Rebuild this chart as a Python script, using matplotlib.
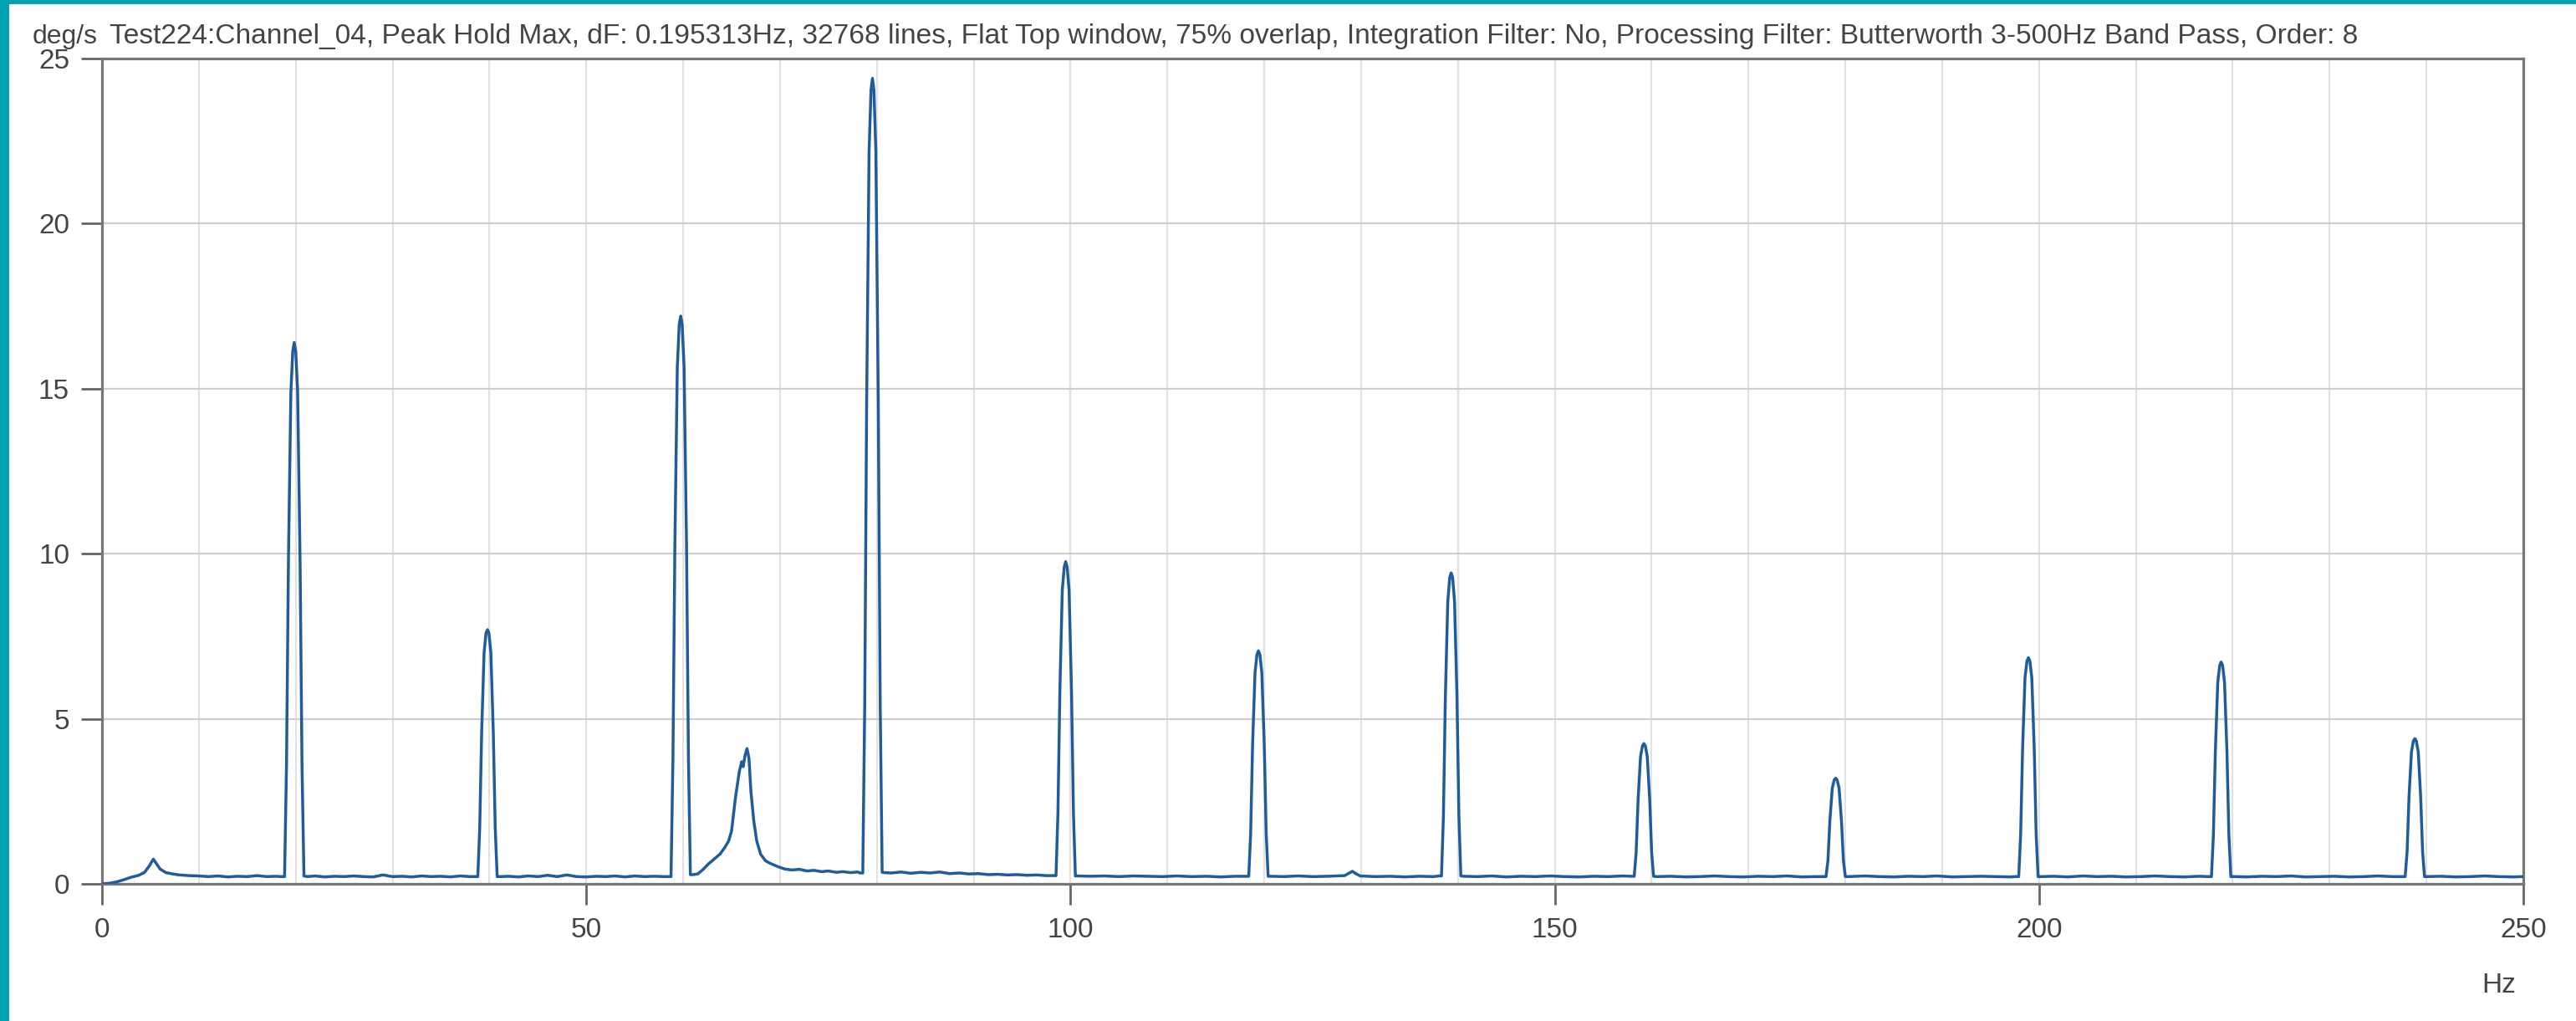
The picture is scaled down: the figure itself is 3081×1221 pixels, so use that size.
import numpy as np
import matplotlib
matplotlib.use("Agg")
from matplotlib import pyplot as plt
from matplotlib.patches import Rectangle
from matplotlib.ticker import MultipleLocator

plt.rcParams['font.family'] = ['Liberation Sans', 'DejaVu Sans']

# channel header
unit_label = "deg/s"
header = ("Test224:Channel_04, Peak Hold Max, dF: 0.195313Hz, 32768 lines, Flat Top window, "
          "75% overlap, Integration Filter: No, Processing Filter: Butterworth 3-500Hz Band Pass, Order: 8")
x_unit = "Hz"

x_ticks = [0, 50, 100, 150, 200, 250]
y_ticks = [0, 5, 10, 15, 20, 25]

# noise floor between the harmonics (Hz, deg/s)
floor_hz = [0.0, 0.8, 1.5, 2.2, 3.0, 3.8, 4.4, 4.9, 5.3, 5.6, 6.0, 6.6, 7.3, 8.0, 9.0, 10.0,
            11.0, 12.0, 13.0, 14.0, 15.0, 16.0, 17.0, 18.0, 18.5,
            21.2, 22.0, 23.0, 24.0, 25.0, 26.0, 27.0, 28.0, 29.0, 30.0, 31.0, 32.0, 33.0, 34.0,
            35.0, 36.0, 37.0, 38.0, 38.5,
            41.2, 42.0, 43.0, 44.0, 45.0, 46.0, 47.0, 48.0, 49.0, 50.0, 51.0, 52.0, 53.0, 54.0,
            55.0, 56.0, 57.0, 58.0, 58.5,
            61.0, 61.5, 62.0, 62.6, 63.2, 63.8, 64.3, 64.7, 65.0, 65.4, 65.8, 66.05, 66.2, 66.4,
            66.6, 66.8, 67.0, 67.3, 67.6, 68.0, 68.5, 69.0, 69.8, 70.5, 71.2, 72.0, 72.8, 73.5,
            74.3, 75.0, 75.8, 76.5, 77.3, 78.0, 78.3,
            80.8, 81.5, 82.5, 83.5, 84.5, 85.5, 86.5, 87.5, 88.5, 89.5, 90.5, 91.5, 92.5, 93.5,
            94.5, 95.5, 96.5, 97.5, 98.2,
            100.8, 102.0, 103.5, 105.0, 106.5, 108.0, 109.5, 111.0, 112.5, 114.0, 115.5, 117.0, 118.1,
            120.7, 122.0, 123.5, 125.0, 126.5, 128.3, 128.8, 129.1, 129.4, 129.9, 131.5, 133.0,
            134.5, 136.0, 137.5, 138.0,
            140.6, 142.0, 143.5, 145.0, 146.5, 148.0, 149.5, 151.0, 152.5, 154.0, 155.5, 157.0, 157.9,
            160.5, 162.0, 163.5, 165.0, 166.5, 168.0, 169.5, 171.0, 172.5, 174.0, 175.5, 177.0, 177.7,
            180.3, 182.0, 183.5, 185.0, 186.5, 188.0, 189.5, 191.0, 192.5, 194.0, 195.5, 197.0, 197.6,
            200.2, 201.5, 203.0, 204.5, 206.0, 207.5, 209.0, 210.5, 212.0, 213.5, 215.0, 216.5, 217.5,
            220.1, 221.5, 223.0, 224.5, 226.0, 227.5, 229.0, 230.5, 232.0, 233.5, 235.0, 236.5, 237.5,
            240.1, 241.5, 243.0, 244.5, 246.0, 247.5, 249.0, 250.0]
floor_amp = [0.0, 0.02, 0.06, 0.12, 0.2, 0.26, 0.35, 0.55, 0.75, 0.62, 0.45, 0.34, 0.3, 0.27, 0.25, 0.24,
             0.22, 0.24, 0.21, 0.23, 0.22, 0.25, 0.22, 0.23, 0.22,
             0.22, 0.24, 0.21, 0.23, 0.22, 0.24, 0.22, 0.21, 0.27, 0.22, 0.23, 0.21, 0.24, 0.22,
             0.23, 0.21, 0.24, 0.22, 0.22,
             0.22, 0.23, 0.21, 0.24, 0.22, 0.26, 0.22, 0.27, 0.22, 0.21, 0.23, 0.22, 0.24, 0.21,
             0.24, 0.22, 0.23, 0.22, 0.22,
             0.28, 0.3, 0.42, 0.6, 0.75, 0.9, 1.1, 1.3, 1.6, 2.6, 3.4, 3.7, 3.55, 3.9,
             4.1, 3.8, 2.8, 1.9, 1.3, 0.9, 0.7, 0.62, 0.52, 0.45, 0.42, 0.44, 0.39, 0.41,
             0.37, 0.39, 0.35, 0.37, 0.34, 0.36, 0.33,
             0.34, 0.33, 0.36, 0.32, 0.35, 0.33, 0.36, 0.31, 0.33, 0.3, 0.31, 0.28, 0.29, 0.27,
             0.28, 0.26, 0.27, 0.25, 0.25,
             0.24, 0.23, 0.24, 0.22, 0.24, 0.23, 0.22, 0.24, 0.22, 0.23, 0.21, 0.23, 0.23,
             0.23, 0.22, 0.24, 0.22, 0.23, 0.25, 0.33, 0.38, 0.32, 0.24, 0.22, 0.23,
             0.21, 0.23, 0.22, 0.24,
             0.23, 0.22, 0.24, 0.21, 0.23, 0.22, 0.24, 0.22, 0.21, 0.23, 0.22, 0.24, 0.23,
             0.22, 0.23, 0.21, 0.22, 0.24, 0.22, 0.21, 0.23, 0.22, 0.24, 0.21, 0.22, 0.22,
             0.22, 0.24, 0.22, 0.21, 0.23, 0.22, 0.24, 0.21, 0.22, 0.23, 0.22, 0.21, 0.22,
             0.22, 0.23, 0.21, 0.24, 0.22, 0.23, 0.21, 0.22, 0.24, 0.22, 0.21, 0.23, 0.22,
             0.22, 0.21, 0.23, 0.22, 0.24, 0.21, 0.22, 0.23, 0.21, 0.22, 0.24, 0.22, 0.22,
             0.22, 0.23, 0.21, 0.22, 0.24, 0.22, 0.21, 0.22]

# harmonics of ~19.9 Hz, sampled across each main lobe
h1_hz = [18.85, 19.05, 19.25, 19.5, 19.7, 19.85, 20.0, 20.2, 20.45, 20.65, 20.85]
h1_amp = [0.22, 3.6, 9.8, 14.9, 16.15, 16.4, 16.15, 14.9, 9.8, 3.6, 0.24]
h2_hz = [38.8, 39.0, 39.2, 39.45, 39.65, 39.8, 39.95, 40.15, 40.4, 40.6, 40.8]
h2_amp = [0.22, 1.7, 4.6, 7.0, 7.6, 7.7, 7.6, 7.0, 4.6, 1.7, 0.22]
h3_hz = [58.75, 58.95, 59.15, 59.4, 59.6, 59.75, 59.9, 60.1, 60.35, 60.55, 60.75]
h3_amp = [0.22, 3.8, 10.3, 15.65, 16.95, 17.2, 16.95, 15.65, 10.3, 3.8, 0.28]
h4_hz = [78.55, 78.75, 78.95, 79.2, 79.4, 79.55, 79.7, 79.9, 80.15, 80.35, 80.55]
h4_amp = [0.33, 5.4, 14.6, 22.2, 24.05, 24.4, 24.05, 22.2, 14.6, 5.4, 0.35]
h5_hz = [98.5, 98.7, 98.9, 99.15, 99.35, 99.5, 99.65, 99.85, 100.1, 100.3, 100.5]
h5_amp = [0.25, 2.15, 5.85, 8.9, 9.6, 9.76, 9.6, 8.9, 5.85, 2.15, 0.24]
h6_hz = [118.4, 118.6, 118.8, 119.05, 119.25, 119.4, 119.55, 119.75, 120.0, 120.2, 120.4]
h6_amp = [0.23, 1.55, 4.25, 6.4, 6.95, 7.06, 6.95, 6.4, 4.25, 1.55, 0.23]
h7_hz = [138.3, 138.5, 138.7, 138.95, 139.15, 139.3, 139.45, 139.65, 139.9, 140.1, 140.3]
h7_amp = [0.24, 2.05, 5.65, 8.55, 9.28, 9.42, 9.28, 8.55, 5.65, 2.05, 0.24]
h8_hz = [158.2, 158.4, 158.6, 158.85, 159.05, 159.2, 159.35, 159.55, 159.8, 160.0, 160.2]
h8_amp = [0.23, 0.95, 2.55, 3.85, 4.18, 4.25, 4.18, 3.85, 2.55, 0.95, 0.23]
h9_hz = [178.0, 178.2, 178.4, 178.65, 178.85, 179.0, 179.15, 179.35, 179.6, 179.8, 180.0]
h9_amp = [0.22, 0.7, 1.9, 2.9, 3.15, 3.2, 3.15, 2.9, 1.9, 0.7, 0.22]
h10_hz = [197.9, 198.1, 198.3, 198.55, 198.75, 198.9, 199.05, 199.25, 199.5, 199.7, 199.9]
h10_amp = [0.22, 1.5, 4.1, 6.25, 6.75, 6.85, 6.75, 6.25, 4.1, 1.5, 0.22]
h11_hz = [217.8, 218.0, 218.2, 218.45, 218.65, 218.8, 218.95, 219.15, 219.4, 219.6, 219.8]
h11_amp = [0.22, 1.48, 4.0, 6.1, 6.62, 6.72, 6.62, 6.1, 4.0, 1.48, 0.22]
h12_hz = [237.8, 238.0, 238.2, 238.45, 238.65, 238.8, 238.95, 239.15, 239.4, 239.6, 239.8]
h12_amp = [0.22, 0.97, 2.65, 4.0, 4.33, 4.4, 4.33, 4.0, 2.65, 0.97, 0.22]

hz = np.concatenate([floor_hz, h1_hz, h2_hz, h3_hz, h4_hz, h5_hz, h6_hz,
                     h7_hz, h8_hz, h9_hz, h10_hz, h11_hz, h12_hz])
amp = np.concatenate([floor_amp, h1_amp, h2_amp, h3_amp, h4_amp, h5_amp, h6_amp,
                      h7_amp, h8_amp, h9_amp, h10_amp, h11_amp, h12_amp])
order = np.argsort(hz, kind="stable")
hz, amp = hz[order], amp[order]

W, H = 3081, 1221
fig = plt.figure(figsize=(W / 100, H / 100), dpi=100)
fig.patch.set_facecolor("white")

teal = "#00a2b2"
fig.patches.append(Rectangle((0, 1 - 5 / H), 1, 5 / H, transform=fig.transFigure,
                             facecolor=teal, edgecolor="none", zorder=10))
fig.patches.append(Rectangle((0, 0), 11 / W, 1, transform=fig.transFigure,
                             facecolor=teal, edgecolor="none", zorder=10))

left, right, top, bottom = 122, 3018, 70, 1057
ax = fig.add_axes([left / W, 1 - bottom / H, (right - left) / W, (bottom - top) / H])

ax.plot(hz, amp, color="#1f5c99", lw=2.5, solid_joinstyle="round", zorder=3)

ax.set_xlim(0, 250)
ax.set_ylim(0, 25)
ax.set_xticks(x_ticks)
ax.set_yticks(y_ticks)
ax.xaxis.set_minor_locator(MultipleLocator(10))

ax.grid(axis="x", which="both", color="#e2e2e2", lw=1.5, zorder=0)
ax.grid(axis="y", which="major", color="#cfcfcf", lw=1.6, zorder=0)
ax.set_axisbelow(True)

for s in ax.spines.values():
    s.set_color("#777777")
    s.set_linewidth(2.3)

ax.tick_params(which="major", length=18, width=2.0, color="#666666",
               labelsize=24, labelcolor="#444444")
ax.tick_params(axis="x", which="major", pad=11)
ax.tick_params(axis="y", which="major", pad=10)
ax.tick_params(which="minor", length=0)

# header line, stretched to span the plot width
txt = fig.text(131 / W, 1 - 52 / H, header, fontsize=23, color="#444444", va="baseline")
fig.canvas.draw()
bb = txt.get_window_extent()
txt.set_fontsize(23 * (2822 - 131) / bb.width)

fig.text(39 / W, 1 - 52 / H, unit_label, fontsize=23, color="#444444", va="baseline")
fig.text(3009 / W, 1 - 1187 / H, x_unit, fontsize=24, color="#444444", va="baseline", ha="right")

fig.savefig("out.png", dpi=100)
